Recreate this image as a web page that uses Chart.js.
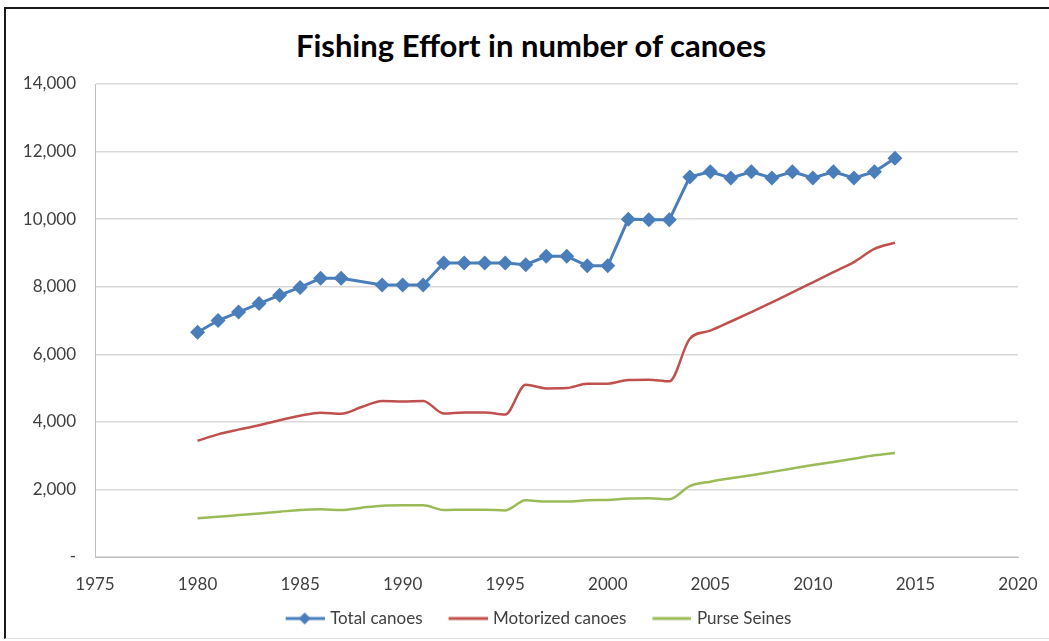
<!DOCTYPE html>
<html>
<head>
<meta charset="utf-8">
<script src="https://cdn.jsdelivr.net/npm/chart.js@4"></script>
<style>
  html, body { margin: 0; padding: 0; background: #fff; }
  #wrap { position: relative; width: 1049px; height: 641px; overflow: hidden; }
  #frame { position: absolute; left: 4px; top: 7px; width: 1100px; height: 629px;
           border-left: 2px solid #1a1a1a; border-top: 2px solid #1a1a1a; border-bottom: 1px solid #ddd; }
  #title { position: absolute; left: 0; top: 27px; width: 1062px; text-align: center;
           font: bold 31px/36px Lato, sans-serif; color: #000; }
  canvas { position: absolute; left: 0; top: 0; }
</style>
</head>
<body>
<div id="wrap">
  <div id="frame"></div>
  <div id="title">Fishing Effort in number of canoes</div>
  <canvas id="myChart" width="1049" height="641"></canvas>
</div>
<script>
  // data block
  const years = [1980, 1981, 1982, 1983, 1984, 1985, 1986, 1987, 1988, 1989,
                 1990, 1991, 1992, 1993, 1994, 1995, 1996, 1997, 1998, 1999,
                 2000, 2001, 2002, 2003, 2004, 2005, 2006, 2007, 2008, 2009,
                 2010, 2011, 2012, 2013, 2014];
  // no total for 1988 in the source
  const totalCanoes = [6650, 7000, 7250, 7500, 7750, 7980, 8250, 8250, null, 8050,
                       8050, 8050, 8700, 8700, 8700, 8700, 8650, 8900, 8900, 8620,
                       8620, 10000, 9980, 9980, 11250, 11400, 11220, 11400, 11220, 11400,
                       11220, 11400, 11220, 11400, 11800];
  const motorizedCanoes = [3440, 3630, 3770, 3900, 4050, 4180, 4270, 4240, 4440, 4620,
                           4600, 4620, 4250, 4280, 4280, 4220, 5100, 4990, 5000, 5130,
                           5130, 5240, 5250, 5200, 6460, 6700, 6970, 7250, 7540, 7830,
                           8130, 8430, 8730, 9120, 9300];
  const purseSeines = [1150, 1190, 1240, 1290, 1340, 1390, 1410, 1390, 1460, 1520,
                       1530, 1530, 1390, 1400, 1400, 1380, 1680, 1640, 1640, 1680,
                       1690, 1730, 1740, 1710, 2100, 2230, 2330, 2420, 2520, 2620,
                       2720, 2810, 2910, 3010, 3080];
  const seriesNames = ['Total canoes', 'Motorized canoes', 'Purse Seines'];
  const xTicks = [1975, 1980, 1985, 1990, 1995, 2000, 2005, 2010, 2015, 2020];

  const blue = '#4a7ebb';
  const red = '#c0504d';
  const green = '#9bbb59';

  function pts(vals) {
    return years.map(function(y, i){ return {x: y, y: vals[i]}; });
  }

  // legend swatches: blank gap on the left, then a line (with a diamond for the marker series)
  function swatch(color, diamond) {
    const c = document.createElement('canvas');
    c.width = 60; c.height = 14;
    const g = c.getContext('2d');
    g.strokeStyle = color; g.lineWidth = 3;
    g.beginPath(); g.moveTo(21, 7); g.lineTo(60, 7); g.stroke();
    if (diamond) {
      g.fillStyle = color;
      g.beginPath(); g.moveTo(40, 1); g.lineTo(46, 7); g.lineTo(40, 13); g.lineTo(34, 7);
      g.closePath(); g.fill();
    }
    return c;
  }
  const swatches = [swatch(blue, true), swatch(red, false), swatch(green, false)];

  const data = {
    datasets: [{
      label: seriesNames[0],
      data: pts(totalCanoes),
      borderColor: blue,
      backgroundColor: blue,
      borderWidth: 3,
      pointStyle: 'rectRot',
      pointRadius: 7.5,
      pointHoverRadius: 7.5,
      pointBorderWidth: 0,
      spanGaps: true,
      tension: 0
    }, {
      label: seriesNames[1],
      data: pts(motorizedCanoes),
      borderColor: red,
      backgroundColor: red,
      borderWidth: 2.5,
      pointRadius: 0,
      cubicInterpolationMode: 'monotone'
    }, {
      label: seriesNames[2],
      data: pts(purseSeines),
      borderColor: green,
      backgroundColor: green,
      borderWidth: 2.5,
      pointRadius: 0,
      cubicInterpolationMode: 'monotone'
    }]
  };

  const tickFont = { family: 'Lato', size: 17 };

  const config = {
    type: 'line',
    data: data,
    options: {
      responsive: false,
      animation: false,
      layout: { padding: { left: 10, right: 0, top: 84, bottom: 4 } },
      plugins: {
        title: { display: false },
        legend: {
          position: 'bottom',
          labels: {
            color: '#404040',
            font: { family: 'Lato', size: 17 },
            usePointStyle: true,
            pointStyleWidth: 54,
            padding: 8,
            generateLabels: function(chart) {
              return chart.data.datasets.map(function(ds, i){
                return { text: ds.label, pointStyle: swatches[i], fontColor: '#404040',
                         strokeStyle: ds.borderColor, fillStyle: ds.borderColor,
                         lineWidth: 0, datasetIndex: i, hidden: false };
              });
            }
          }
        },
        tooltip: { enabled: false }
      },
      scales: {
        x: {
          type: 'linear',
          min: 1975,
          max: 2020,
          afterBuildTicks: function(axis){ axis.ticks = xTicks.map(function(v){ return {value: v}; }); },
          afterFit: function(axis){ axis.height = 45; axis.paddingRight = 31; axis.paddingLeft = 0; },
          ticks: {
            color: '#404040',
            font: tickFont,
            padding: 17,
            maxRotation: 0,
            callback: function(v){ return String(v); }
          },
          grid: { display: false, drawTicks: false },
          border: { display: true, color: '#bfbfbf', width: 1 }
        },
        y: {
          min: 0,
          max: 14000,
          ticks: {
            stepSize: 2000,
            color: '#404040',
            font: tickFont,
            padding: 19,
            callback: function(v){ return v === 0 ? '-' : v.toLocaleString('en-US'); }
          },
          afterFit: function(axis){ axis.width = 85; axis.paddingTop = 0; axis.paddingBottom = 0; },
          grid: { color: '#d9d9d9', lineWidth: 1.5, drawTicks: false },
          border: { display: true, color: '#bfbfbf', width: 1 }
        }
      }
    }
  };

  const myChart = new Chart(
    document.getElementById('myChart'),
    config
  );
</script>
</body>
</html>
